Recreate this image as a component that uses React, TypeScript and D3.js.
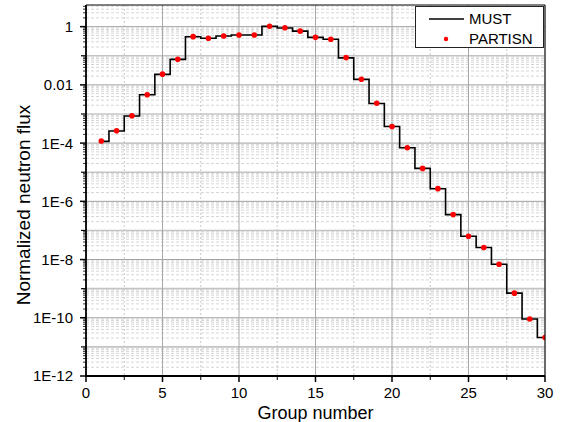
import React from "react";
import * as d3 from "d3";

const groups = d3.range(1, 31);
const mustFlux = [
  1.15e-4, 2.6e-4, 8.5e-4, 4.6e-3, 0.023, 0.075, 0.45, 0.40, 0.48, 0.52,
  0.52, 1.02, 0.9, 0.7, 0.43, 0.37, 0.085, 0.0155, 2.3e-3, 3.7e-4,
  6.9e-5, 1.35e-5, 2.7e-6, 3.5e-7, 6.3e-8, 2.6e-8, 6.9e-9, 7.0e-10, 9.1e-11, 2.1e-11,
];
const partisnFlux = [
  1.18e-4, 2.65e-4, 8.7e-4, 4.6e-3, 0.0234, 0.076, 0.454, 0.40, 0.48, 0.52,
  0.52, 1.03, 0.92, 0.70, 0.43, 0.37, 0.0865, 0.0157, 2.35e-3, 3.7e-4,
  6.9e-5, 1.35e-5, 2.73e-6, 3.5e-7, 6.3e-8, 2.6e-8, 6.9e-9, 7.0e-10, 9.1e-11, 2.1e-11,
];
const xTicks = [0, 5, 10, 15, 20, 25, 30];
const xMinorTicks = [2.5, 7.5, 12.5, 17.5, 22.5, 27.5];
const yTicks = [1, 1e-2, 1e-4, 1e-6, 1e-8, 1e-10, 1e-12];
const yTickLabels = ["1", "0.01", "1E-4", "1E-6", "1E-8", "1E-10", "1E-12"];
const oddDecades = [1e-1, 1e-3, 1e-5, 1e-7, 1e-9, 1e-11];
const legendLabels = ["MUST", "PARTISN"];

const W = 569;
const H = 422;
const L = 86, R = 545, T = 5, B = 376;
const FONT = "'Liberation Sans', Arial, sans-serif";

export default function App() {
  const x = d3.scaleLinear().domain([0, 30]).range([L, R]);
  const y = d3.scaleLog().domain([1e-12, Math.pow(10, 0.744)]).range([B, T]);

  const minorY: number[] = [];
  for (let e = -12; e <= 0; e++) {
    for (let m = 2; m <= 9; m++) {
      const v = m * Math.pow(10, e);
      if (y(v) >= T) minorY.push(v);
    }
  }

  const stepLine = d3
    .line<number>()
    .x((_, i) => x(groups[i]))
    .y((d) => y(d))
    .curve(d3.curveStep);

  return (
    <svg width={W} height={H} style={{ position: "absolute", left: 0, top: 0, background: "#fff" }}>
      <defs>
        <clipPath id="plot">
          <rect x={L} y={T} width={R - L} height={B - T} />
        </clipPath>
      </defs>
      {/* minor horizontal grid */}
      {minorY.map((v, i) => (
        <line key={"mh" + i} x1={L} x2={R} y1={y(v)} y2={y(v)} stroke="#d6d6d6" strokeWidth={1} strokeDasharray="3,2" />
      ))}
      {oddDecades.map((v, i) => (
        <line key={"od" + i} x1={L} x2={R} y1={y(v)} y2={y(v)} stroke="#c4c4c4" strokeWidth={1.6} />
      ))}
      {/* minor vertical grid */}
      {xMinorTicks.map((v, i) => (
        <line key={"mv" + i} x1={x(v)} x2={x(v)} y1={T} y2={B} stroke="#c8c8c8" strokeWidth={1} strokeDasharray="2,2" />
      ))}
      {/* major grid */}
      {yTicks.map((v, i) => (
        <line key={"my" + i} x1={L} x2={R} y1={y(v)} y2={y(v)} stroke="#a0a0a0" strokeWidth={1} />
      ))}
      {xTicks.map((v, i) => (
        <line key={"mx" + i} x1={x(v)} x2={x(v)} y1={T} y2={B} stroke="#a8a8a8" strokeWidth={1} />
      ))}

      {/* data */}
      <g clipPath="url(#plot)">
        <path d={stepLine(mustFlux) || ""} fill="none" stroke="#000" strokeWidth={1.6} />
        {partisnFlux.map((v, i) => (
          <circle key={"p" + i} cx={x(groups[i])} cy={y(v)} r={2.8} fill="#ff0000" />
        ))}
      </g>

      {/* frame */}
      <line x1={L} x2={R} y1={T} y2={T} stroke="#000" strokeWidth={1} />
      <line x1={R} x2={R} y1={T} y2={B} stroke="#000" strokeWidth={1} />
      <line x1={L} x2={L} y1={T} y2={B + 1} stroke="#000" strokeWidth={1.8} />
      <line x1={L - 1} x2={R} y1={B} y2={B} stroke="#000" strokeWidth={1.8} />

      {/* x ticks */}
      {xTicks.map((v, i) => (
        <g key={"xt" + i}>
          <line x1={x(v)} x2={x(v)} y1={B} y2={B + 6} stroke="#000" strokeWidth={1.5} />
          <text x={x(v)} y={398} textAnchor="middle" fontFamily={FONT} fontSize={15} fill="#000">
            {v}
          </text>
        </g>
      ))}
      {xMinorTicks.map((v, i) => (
        <line key={"xm" + i} x1={x(v)} x2={x(v)} y1={B} y2={B + 4} stroke="#000" strokeWidth={1} />
      ))}

      {/* y ticks */}
      {yTicks.map((v, i) => (
        <g key={"yt" + i}>
          <line x1={L - 6} x2={L} y1={y(v)} y2={y(v)} stroke="#000" strokeWidth={1.5} />
          <text x={73} y={y(v)} dy="0.36em" textAnchor="end" fontFamily={FONT} fontSize={15} fill="#000">
            {yTickLabels[i]}
          </text>
        </g>
      ))}
      {oddDecades.map((v, i) => (
        <line key={"yo" + i} x1={L - 5} x2={L} y1={y(v)} y2={y(v)} stroke="#000" strokeWidth={1.2} />
      ))}
      {minorY.map((v, i) => (
        <line key={"ym" + i} x1={L - 3} x2={L} y1={y(v)} y2={y(v)} stroke="#000" strokeWidth={0.8} />
      ))}

      {/* axis titles */}
      <text x={(L + R) / 2} y={418.5} textAnchor="middle" fontFamily={FONT} fontSize={18} fill="#000">
        Group number
      </text>
      <text
        transform={`translate(30, 205) rotate(-90)`}
        textAnchor="middle"
        fontFamily={FONT}
        fontSize={19}
        fill="#000"
      >
        Normalized neutron flux
      </text>

      {/* legend */}
      <rect x={415.5} y={6.5} width={128} height={41} fill="#fff" stroke="#222" strokeWidth={1} />
      <line x1={429} x2={464} y1={19} y2={19} stroke="#000" strokeWidth={1.6} />
      <text x={469} y={19} dy="0.36em" fontFamily={FONT} fontSize={15} fill="#000">
        {legendLabels[0]}
      </text>
      <circle cx={446} cy={39} r={2.2} fill="#ff0000" />
      <text x={469} y={39} dy="0.36em" fontFamily={FONT} fontSize={15} fill="#000">
        {legendLabels[1]}
      </text>
    </svg>
  );
}
